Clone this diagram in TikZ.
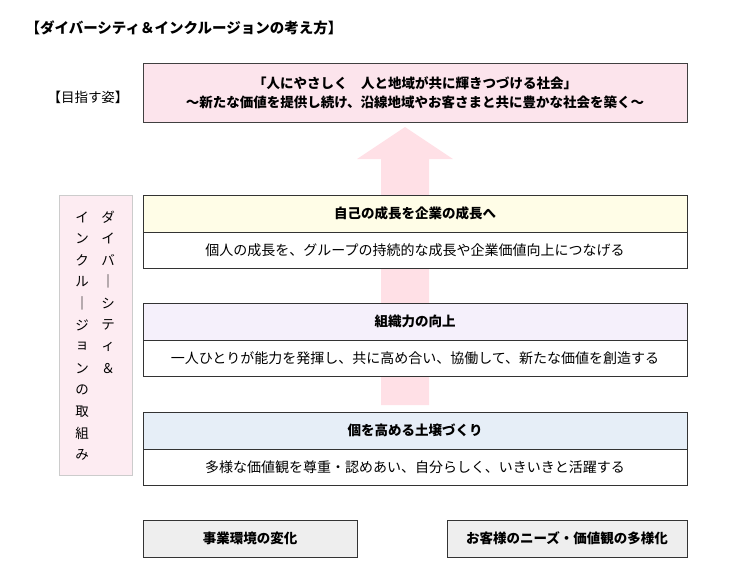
\documentclass[tikz,border=0pt]{standalone}
\usepackage{fontspec}
\setmainfont{Noto Sans CJK JP}
\definecolor{pinkf}{HTML}{FCE4EC}
\definecolor{arrowc}{HTML}{FFE0E6}
\definecolor{yelf}{HTML}{FFFDE7}
\definecolor{lavf}{HTML}{F5F0FB}
\definecolor{bluf}{HTML}{E6EEF7}
\definecolor{grayf}{HTML}{EEEEEE}
\tikzset{
  hdr/.style={draw=black!80,line width=0.8pt,inner sep=0pt,font=\fontsize{13.5}{16}\selectfont\bfseries},
  bdy/.style={draw=black!80,line width=0.8pt,fill=white,inner sep=0pt,font=\fontsize{14}{16}\selectfont},
  vch/.style={inner sep=0pt,font=\fontsize{13.5}{16}\selectfont}
}
\begin{document}
\begin{tikzpicture}[x=1pt,y=-1pt]
\useasboundingbox (0,0) rectangle (740,582);
\node[anchor=west,font=\fontsize{14.5}{16}\selectfont\bfseries] (title) at (22,28) {【ダイバーシティ＆インクルージョンの考え方】};
\node[font=\fontsize{13.5}{16}\selectfont] (goal) at (88,97) {【目指す姿】};
% arrow
\fill[arrowc] (381,405) -- (381,159) -- (357,159) -- (405,127) -- (453,159) -- (429,159) -- (429,405) -- cycle;
\node[draw=black!75,line width=0.8pt,fill=pinkf,minimum width=544pt,minimum height=59pt,align=center,font=\fontsize{13.5}{19}\selectfont\bfseries] (top) at (415,92.5) {「人にやさしく　人と地域が共に輝きつづける社会」\\～新たな価値を提供し続け、沿線地域やお客さまと共に豊かな社会を築く～};
% left box
\node[draw=black!20,line width=0.8pt,fill=pinkf!70,minimum width=73pt,minimum height=280pt] (left) at (95.5,335) {};
\foreach \c [count=\i from 0] in {ダ,イ,バ,｜,シ,テ,ィ,＆}
  \node[vch] (r\i) at (108,217+21.6*\i) {\c};
\foreach \c [count=\i from 0] in {イ,ン,ク,ル,｜,ジ,ョ,ン,の,取,組,み}
  \node[vch] (l\i) at (82,217+21.6*\i) {\c};
% boxes
\node[hdr,fill=yelf,minimum width=544pt,minimum height=37pt] (h1) at (415,213.5) {自己の成長を企業の成長へ};
\node[bdy,minimum width=544pt,minimum height=36pt] (b1) at (415,250) {個人の成長を、グループの持続的な成長や企業価値向上につなげる};
\node[hdr,fill=lavf,minimum width=544pt,minimum height=37pt] (h2) at (415,321.5) {組織力の向上};
\node[bdy,minimum width=544pt,minimum height=36pt] (b2) at (415,358) {一人ひとりが能力を発揮し、共に高め合い、協働して、新たな価値を創造する};
\node[hdr,fill=bluf,minimum width=544pt,minimum height=37pt] (h3) at (415,430.5) {個を高める土壌づくり};
\node[bdy,minimum width=544pt,minimum height=36pt] (b3) at (415,467) {多様な価値観を尊重・認めあい、自分らしく、いきいきと活躍する};
\node[hdr,fill=grayf,minimum width=214pt,minimum height=37pt] (e1) at (250,538.5) {事業環境の変化};
\node[hdr,fill=grayf,minimum width=240pt,minimum height=37pt] (e2) at (567,538.5) {お客様のニーズ・価値観の多様化};
\end{tikzpicture}
\end{document}
